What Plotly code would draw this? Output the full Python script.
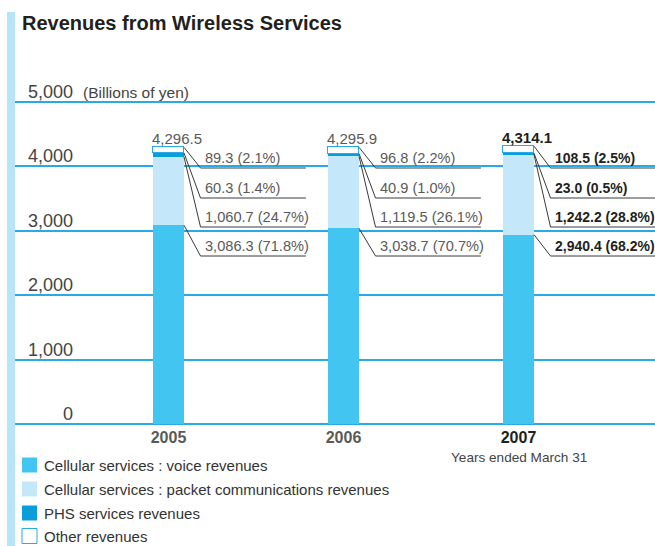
import plotly.graph_objects as go

# ---- data -------------------------------------------------------------
years = ["2005", "2006", "2007"]
voice = [3086.3, 3038.7, 2940.4]
packet = [1060.7, 1119.5, 1242.2]
phs = [60.3, 40.9, 23.0]
other = [89.3, 96.8, 108.5]
totals = [4296.5, 4295.9, 4314.1]

voice_pct = [71.8, 70.7, 68.2]
packet_pct = [24.7, 26.1, 28.8]
phs_pct = [1.4, 1.0, 0.5]
other_pct = [2.1, 2.2, 2.5]

y_ticks = [0, 1000, 2000, 3000, 4000, 5000]

series_names = [
    "Cellular services : voice revenues",
    "Cellular services : packet communications revenues",
    "PHS services revenues",
    "Other revenues",
]

# ---- style ------------------------------------------------------------
C_VOICE = "#43c5f2"
C_PACKET = "#c4e8f9"
C_PHS = "#0a9ddc"
C_OTHER = "#ffffff"
C_GRID = "#2aaae2"
C_SIDE = "#b6e4f8"
SANS = "Liberation Sans, Arial, sans-serif"

W, H = 655, 546
PL, PR, PT, PB = 7, 655, 80, 426          # plot area in pixels
ZERO_PX, PX_PER_UNIT = 424, 322 / 5000    # y scale
CAT0_PX, CAT_STEP = 168.5, 175            # x scale
BW = 31 / CAT_STEP                        # bar width in axis units

y_min = -(PB - ZERO_PX) / PX_PER_UNIT
y_max = (ZERO_PX - PT) / PX_PER_UNIT
x_min = -(CAT0_PX - PL) / CAT_STEP
x_max = x_min + (PR - PL) / CAT_STEP


def px_x(px):
    return (px - PL) / (PR - PL)


def px_y(py):
    return (PB - py) / (PB - PT)


def val_y(py):
    return (ZERO_PX - py) / PX_PER_UNIT


xs = list(range(len(years)))

fig = go.Figure()
for vals, col, name, line in [
    (voice, C_VOICE, series_names[0], dict(width=0)),
    (packet, C_PACKET, series_names[1], dict(width=0)),
    (phs, C_PHS, series_names[2], dict(width=0)),
    (other, C_OTHER, series_names[3], dict(width=1.5, color=C_GRID)),
]:
    fig.add_trace(go.Bar(x=xs, y=vals, name=name, width=BW,
                         marker=dict(color=col, line=line),
                         showlegend=False, hoverinfo="skip"))

shapes = []
annotations = []

# left accent stripe
shapes.append(dict(type="rect", xref="paper", yref="paper",
                   x0=px_x(7), x1=px_x(15), y0=px_y(546), y1=px_y(12),
                   fillcolor=C_SIDE, line=dict(width=0), layer="above"))

# y tick labels sitting above the gridlines
for t in y_ticks:
    annotations.append(dict(xref="paper", yref="y", x=px_x(75), y=t,
                            yshift=10, xanchor="right", yanchor="middle",
                            text=f"{t:,}", showarrow=False,
                            font=dict(family=SANS, size=18, color="#444")))
annotations.append(dict(xref="paper", yref="y", x=px_x(81), y=5000,
                        yshift=10, xanchor="left", yanchor="middle",
                        text="(Billions of yen)", showarrow=False,
                        font=dict(family=SANS, size=15.5, color="#444")))

# leader lines and value labels
row_px = [168, 198, 227, 256]
for i, x in enumerate(xs):
    bold = i == len(xs) - 1
    tcol = "#231f20" if bold else "#5a5a5a"
    segs = [
        (totals[i], other[i], other_pct[i]),
        (voice[i] + packet[i] + phs[i], phs[i], phs_pct[i]),
        (voice[i] + packet[i], packet[i], packet_pct[i]),
        (voice[i], voice[i], voice_pct[i]),
    ]
    for (top, v, p), rp in zip(segs, row_px):
        ry = val_y(rp)
        shapes.append(dict(type="path", xref="x", yref="y",
                           path=f"M {x + BW / 2},{top} L {x + 0.183},{ry} L {x + 0.785},{ry}",
                           line=dict(color="#3a3a3a", width=1)))
        txt = f"{v:,.1f} ({p:.1f}%)"
        if bold:
            txt = f"<b>{txt}</b>"
        annotations.append(dict(xref="x", yref="y", x=x + 0.196, y=ry,
                                yshift=10, xanchor="left", yanchor="middle",
                                text=txt, showarrow=False,
                                font=dict(family=SANS, size=14 if bold else 14.6,
                                          color=tcol)))
    # total above the bar
    ttxt = f"{totals[i]:,.1f}"
    annotations.append(dict(xref="x", yref="y", x=x - BW / 2, y=totals[i],
                            yshift=9, xanchor="left", yanchor="middle",
                            xshift=-3,
                            text=f"<b>{ttxt}</b>" if bold else ttxt,
                            showarrow=False,
                            font=dict(family=SANS, size=15, color=tcol)))

annotations.append(dict(xref="x", yref="paper", x=2, y=px_y(457),
                        xanchor="center", yanchor="middle",
                        text="Years ended March 31", showarrow=False,
                        font=dict(family=SANS, size=13.6, color="#444")))

# legend
legend_fill = [C_VOICE, C_PACKET, C_PHS, C_OTHER]
legend_cy = [465, 489, 513, 536]
for name, fc, cy in zip(series_names, legend_fill, legend_cy):
    shapes.append(dict(type="rect", xref="paper", yref="paper",
                       x0=px_x(22), x1=px_x(37), y0=px_y(cy + 7.5), y1=px_y(cy - 7.5),
                       fillcolor=fc,
                       line=dict(width=1 if fc == C_OTHER else 0, color=C_GRID)))
    annotations.append(dict(xref="paper", yref="paper", x=px_x(42), y=px_y(cy),
                            xanchor="left", yanchor="middle", text=name,
                            showarrow=False,
                            font=dict(family=SANS, size=15, color="#333")))

year_text = []
for i, y in enumerate(years):
    c = "#231f20" if i == len(years) - 1 else "#5a5a5a"
    year_text.append(f"<span style='color:{c}'><b>{y}</b></span>")

fig.update_layout(
    width=W, height=H,
    margin=dict(l=PL, r=W - PR, t=PT, b=H - PB, pad=0),
    paper_bgcolor="white", plot_bgcolor="white",
    barmode="stack", bargap=0,
    showlegend=False,
    title=dict(text="<b>Revenues from Wireless Services</b>",
               xref="container", yref="container",
               x=22 / W, y=1 - 23 / H, xanchor="left", yanchor="middle",
               font=dict(family=SANS, size=20, color="#231f20")),
    xaxis=dict(range=[x_min, x_max], tickvals=xs, ticktext=year_text,
               showgrid=False, zeroline=False, showline=False, ticks="",
               tickfont=dict(family=SANS, size=16, color="#5a5a5a"),
               fixedrange=True),
    yaxis=dict(range=[y_min, y_max], tickvals=y_ticks, showticklabels=False,
               showgrid=True, gridcolor=C_GRID, gridwidth=1.5,
               zeroline=True, zerolinecolor=C_GRID, zerolinewidth=1.5,
               showline=False, ticks="", fixedrange=True),
    shapes=shapes,
    annotations=annotations,
)

fig.write_html("out.html")
